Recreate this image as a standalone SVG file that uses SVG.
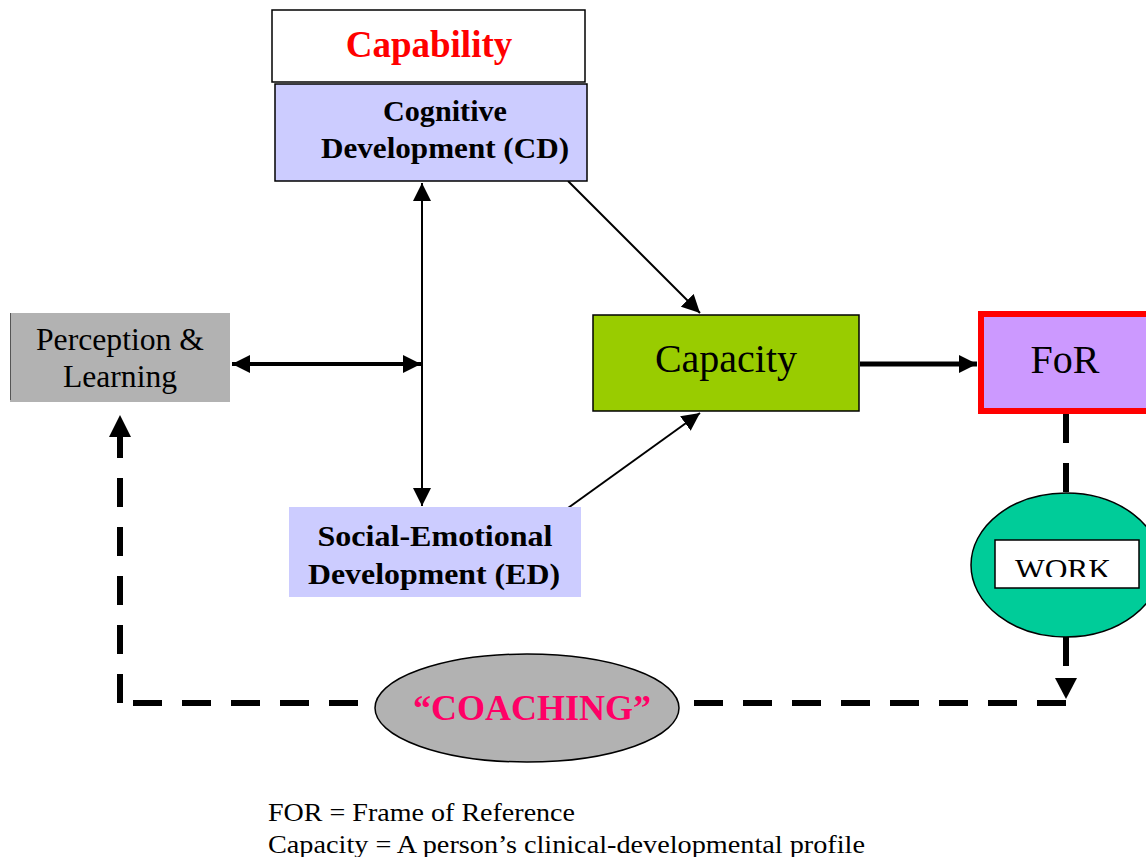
<svg xmlns="http://www.w3.org/2000/svg" width="1146" height="857" viewBox="0 0 1146 857">
  <style>
    .serif { font-family: "Liberation Serif", "Times New Roman", serif; }
    .bold { font-weight: bold; }
    .thin { stroke: #000; stroke-width: 2; fill: none; }
    .dash { stroke: #000; stroke-width: 6; fill: none; stroke-dasharray: 29 20; }
  </style>
  <defs>
    <marker id="arrS" viewBox="0 0 10 10" refX="10" refY="5" markerWidth="18" markerHeight="18" markerUnits="userSpaceOnUse" orient="auto-start-reverse">
      <path d="M0,0 L10,5 L0,10 z" fill="#000"/>
    </marker>
    <clipPath id="workClip">
      <rect x="995" y="540" width="144" height="37"/>
    </clipPath>
  </defs>

  <rect width="1146" height="857" fill="#fff"/>

  <!-- connectors -->
  <g id="connectors">
    <line x1="232" y1="364" x2="421" y2="364" stroke="#000" stroke-width="4" marker-start="url(#arrS)" marker-end="url(#arrS)"/>
    <line x1="422" y1="183" x2="422" y2="506" class="thin" marker-start="url(#arrS)" marker-end="url(#arrS)"/>
    <line x1="568" y1="181" x2="700" y2="313" class="thin" marker-end="url(#arrS)"/>
    <line x1="568" y1="508" x2="700" y2="413" class="thin" marker-end="url(#arrS)"/>
    <line x1="860" y1="364" x2="977" y2="364" stroke="#000" stroke-width="5" marker-end="url(#arrS)"/>
    <!-- FoR down to WORK -->
    <line x1="1066" y1="414" x2="1066" y2="494" class="dash" stroke-dasharray="30 25"/>
    <!-- WORK down to coaching path -->
    <path d="M1066,637 L1066,676" class="dash" stroke-dasharray="31 20"/>
    <path d="M1055,678 L1077,678 L1066,699 z" fill="#000"/>
    <!-- bottom dashed return path -->
    <path d="M1066,703 L680,703" class="dash" stroke-dasharray="31 25"/>
    <path d="M133,703 L376,703" class="dash"/>
    <path d="M120,703 L120,437" class="dash" stroke-dasharray="31 20"/>
    <path d="M109,437 L131,437 L120,415 z" fill="#000"/>
  </g>

  <g id="capability">
    <rect x="272" y="10" width="313" height="72" fill="#fff" stroke="#000" stroke-width="1.5"/>
    <text x="429" y="57" text-anchor="middle" class="serif bold" font-size="37" fill="#ff0000">Capability</text>
  </g>

  <g id="cognitive">
    <rect x="275" y="84" width="312" height="97" fill="#ccccff" stroke="#000" stroke-width="1.5"/>
    <text x="445" y="121" text-anchor="middle" class="serif bold" font-size="29" textLength="124" lengthAdjust="spacingAndGlyphs">Cognitive</text>
    <text x="445" y="158" text-anchor="middle" class="serif bold" font-size="29" textLength="248" lengthAdjust="spacingAndGlyphs">Development (CD)</text>
  </g>

  <g id="perception">
    <rect x="10" y="313" width="220" height="89" fill="#b2b2b2"/>
    <line x1="10.5" y1="313" x2="10.5" y2="400" stroke="#555" stroke-width="1"/>
    <text x="120" y="350" text-anchor="middle" class="serif" font-size="31" textLength="168" lengthAdjust="spacingAndGlyphs">Perception &amp;</text>
    <text x="120" y="387" text-anchor="middle" class="serif" font-size="31" textLength="114" lengthAdjust="spacingAndGlyphs">Learning</text>
  </g>

  <g id="capacity">
    <rect x="593" y="315" width="266" height="96" fill="#99cc00" stroke="#000" stroke-width="1.5"/>
    <text x="726" y="372" text-anchor="middle" class="serif" font-size="40">Capacity</text>
  </g>

  <g id="for">
    <rect x="981" y="314" width="170" height="97" fill="#cc99ff" stroke="#ff0000" stroke-width="6"/>
    <text x="1065" y="373" text-anchor="middle" class="serif" font-size="40">FoR</text>
  </g>

  <g id="social-emotional">
    <rect x="289" y="507" width="292" height="90" fill="#ccccff"/>
    <text x="435" y="546" text-anchor="middle" class="serif bold" font-size="29" textLength="235" lengthAdjust="spacingAndGlyphs">Social-Emotional</text>
    <text x="434" y="584" text-anchor="middle" class="serif bold" font-size="29" textLength="252" lengthAdjust="spacingAndGlyphs">Development (ED)</text>
  </g>

  <g id="work">
    <ellipse cx="1066" cy="565" rx="95" ry="72" fill="#00cc99" stroke="#000" stroke-width="1.5"/>
    <rect x="995" y="540" width="144" height="48" fill="#fff" stroke="#000" stroke-width="1.5"/>
    <text x="1063" y="579" text-anchor="middle" class="serif" font-size="30" textLength="96" lengthAdjust="spacingAndGlyphs" clip-path="url(#workClip)">WORK</text>
  </g>

  <g id="coaching">
    <ellipse cx="527" cy="708" rx="152" ry="54" fill="#b2b2b2" stroke="#000" stroke-width="1.5"/>
    <text x="532" y="720" text-anchor="middle" class="serif bold" font-size="35" fill="#ff0066" textLength="238" lengthAdjust="spacingAndGlyphs">“COACHING”</text>
  </g>

  <g id="legend">
    <text x="268" y="821" class="serif" font-size="25" textLength="307" lengthAdjust="spacingAndGlyphs">FOR = Frame of Reference</text>
    <text x="268" y="853" class="serif" font-size="25" textLength="597" lengthAdjust="spacingAndGlyphs">Capacity = A person’s clinical-developmental profile</text>
  </g>
</svg>
